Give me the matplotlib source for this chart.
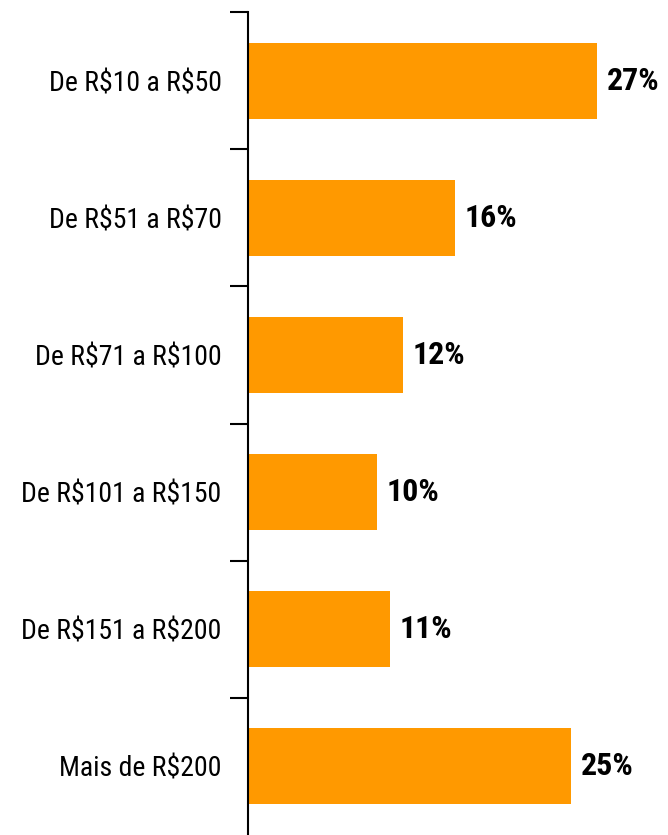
import matplotlib.pyplot as plt
from matplotlib.ticker import FixedLocator

# faixas de valor e percentuais
faixas = ["De R$10 a R$50", "De R$51 a R$70", "De R$71 a R$100",
          "De R$101 a R$150", "De R$151 a R$200", "Mais de R$200"]
percentuais = [27, 16, 12, 10, 11, 25]

plt.rcParams['font.family'] = ['Liberation Sans Narrow', 'Roboto Condensed',
                               'DejaVu Sans Condensed', 'DejaVu Sans']
plt.rcParams['font.stretch'] = 'condensed'

fig = plt.figure(figsize=(6.68, 8.35), dpi=100)
ax = fig.add_axes([248 / 668, 0, 420 / 668, 1 - 12 / 835])

pos = list(range(len(faixas)))
ax.barh(pos, percentuais, height=0.555, color="#ff9900")

for p, v in zip(pos, percentuais):
    ax.text(v + 0.75, p, f"{v}%", va="center", ha="left",
            fontsize=23, fontweight="bold", color="black")

ax.set_xlim(0, 32.5)
ax.set_ylim(len(faixas) - 0.5, -0.5)

# ticks nas divisas das categorias, rotulos no centro
ax.yaxis.set_major_locator(FixedLocator([i - 0.5 for i in range(len(faixas))]))
ax.yaxis.set_minor_locator(FixedLocator(pos))
ax.set_yticklabels([], minor=False)
ax.set_yticklabels([f.replace("$", r"\$") for f in faixas], minor=True, fontsize=20)
ax.tick_params(axis="y", which="major", length=13, width=1.5, direction="out")
ax.tick_params(axis="y", which="minor", length=0, pad=19)
ax.set_xticks([])

for s in ["top", "right", "bottom"]:
    ax.spines[s].set_visible(False)
ax.spines["left"].set_linewidth(1.5)

fig.savefig("out.png", dpi=100)
